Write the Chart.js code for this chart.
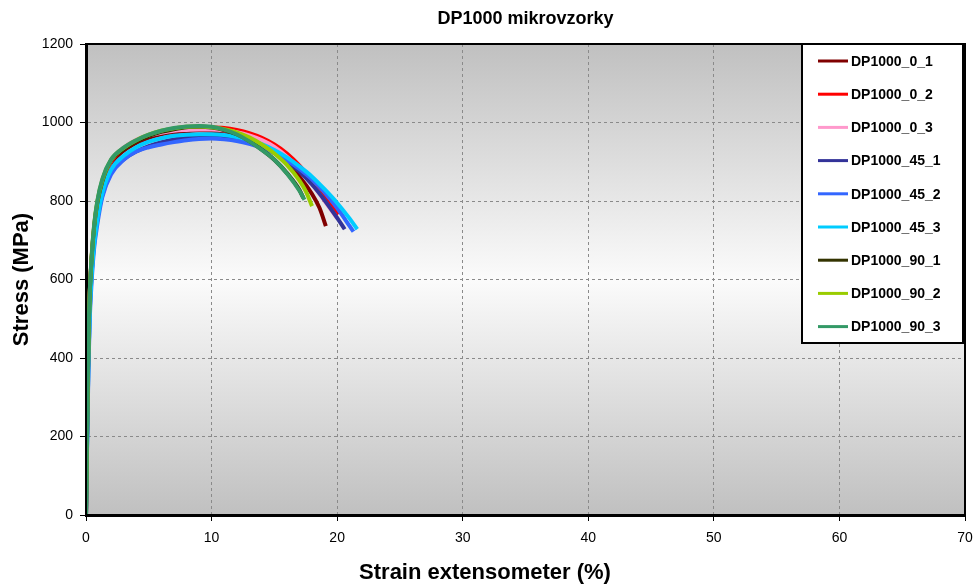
<!DOCTYPE html>
<html lang="en">
<head>
  <meta charset="UTF-8" />
  <title>DP1000 mikrovzorky</title>
  <style>
    body {
      margin: 0;
      background-color: #ffffff;
    }

    .wrap {
      width: 976px;
      height: 584px;
      position: relative;
    }
  </style>
</head>
<body>
  <div class="wrap">
    <canvas id="tensileChart"></canvas>
  </div>

  <script src="https://cdn.jsdelivr.net/npm/chart.js"></script>

  <script>
    const chartTitle = "DP1000 mikrovzorky";
    const xTitle = "Strain extensometer (%)";
    const yTitle = "Stress (MPa)";

    const xTicks = [0, 10, 20, 30, 40, 50, 60, 70];
    const yTicks = [0, 200, 400, 600, 800, 1000, 1200];

    const seriesNames = [
      "DP1000_0_1", "DP1000_0_2", "DP1000_0_3",
      "DP1000_45_1", "DP1000_45_2", "DP1000_45_3",
      "DP1000_90_1", "DP1000_90_2", "DP1000_90_3"
    ];
    const seriesColors = [
      "#800000", "#ff0000", "#ff99cc",
      "#333399", "#3366ff", "#00ccff",
      "#333300", "#99cc00", "#339966"
    ];

    // strain (%) / stress (MPa)
    const strain_0_1 = [0, 0.1, 0.2, 0.3, 0.45, 0.65, 0.9, 1.3, 2, 3, 4, 5, 6, 7, 8, 9, 10, 11, 12, 13, 14, 15, 16, 17, 18, 18.6, 19.1];
    const stress_0_1 = [0, 240, 440, 560, 650, 725, 785, 840, 895, 928, 948, 961, 970, 975, 978, 980, 979, 976, 969, 958, 943, 923, 896, 862, 818, 782, 736];

    const strain_0_2 = [0, 0.1, 0.2, 0.3, 0.45, 0.65, 0.9, 1.3, 2, 3, 4, 5, 6, 7, 8, 9, 10, 11, 12, 13, 14, 15, 16, 17, 18, 19, 20.1];
    const stress_0_2 = [0, 245, 445, 565, 655, 730, 790, 845, 900, 934, 954, 967, 976, 981, 985, 987, 987, 986, 981, 973, 961, 944, 921, 890, 850, 808, 766];

    const strain_0_3 = [0, 0.1, 0.2, 0.3, 0.45, 0.65, 0.9, 1.3, 2, 3, 4, 5, 6, 7, 8, 9, 10, 11, 12, 13, 14, 15, 16, 17, 18, 19, 20];
    const stress_0_3 = [0, 245, 445, 565, 655, 730, 792, 848, 903, 936, 956, 967, 974, 979, 981, 982, 982, 980, 975, 967, 955, 938, 913, 882, 843, 800, 756];

    const strain_45_1 = [0, 0.1, 0.2, 0.3, 0.45, 0.65, 0.9, 1.3, 2, 3, 4, 5, 6, 7, 8, 9, 10, 11, 12, 13, 14, 15, 16, 17, 18, 19, 20, 20.6];
    const stress_45_1 = [0, 215, 400, 520, 615, 695, 755, 815, 872, 906, 926, 940, 950, 957, 961, 964, 964, 962, 957, 949, 938, 922, 901, 875, 842, 802, 757, 728];

    const strain_45_2 = [0, 0.1, 0.2, 0.3, 0.45, 0.65, 0.9, 1.3, 2, 3, 4, 5, 6, 7, 8, 9, 10, 11, 12, 13, 14, 15, 16, 17, 18, 19, 20, 21, 21.3];
    const stress_45_2 = [0, 200, 380, 500, 595, 680, 740, 810, 868, 905, 926, 937, 944, 950, 955, 958, 959, 957, 953, 946, 936, 922, 904, 882, 855, 822, 782, 736, 722];

    const strain_45_3 = [0, 0.1, 0.2, 0.3, 0.45, 0.65, 0.9, 1.3, 2, 3, 4, 5, 6, 7, 8, 9, 10, 11, 12, 13, 14, 15, 16, 17, 18, 19, 20, 21, 21.6];
    const stress_45_3 = [0, 210, 395, 515, 610, 690, 752, 820, 880, 915, 937, 951, 960, 966, 969, 970, 970, 968, 963, 956, 945, 930, 911, 888, 862, 830, 795, 755, 728];

    const strain_90_1 = [0, 0.1, 0.2, 0.3, 0.45, 0.65, 0.9, 1.3, 2, 3, 4, 5, 6, 7, 8, 9, 10, 11, 12, 13, 14, 15, 16, 17, 17.3];
    const stress_90_1 = [0, 250, 450, 565, 655, 735, 795, 850, 903, 932, 952, 966, 976, 983, 988, 989, 987, 981, 970, 953, 931, 905, 871, 828, 808];

    const strain_90_2 = [0, 0.1, 0.2, 0.3, 0.45, 0.65, 0.9, 1.3, 2, 3, 4, 5, 6, 7, 8, 9, 10, 11, 12, 13, 14, 15, 16, 17, 17.5, 18];
    const stress_90_2 = [0, 250, 450, 568, 658, 738, 798, 853, 905, 935, 955, 969, 979, 985, 989, 990, 988, 983, 975, 962, 944, 921, 892, 852, 825, 787];

    const strain_90_3 = [0, 0.1, 0.2, 0.3, 0.45, 0.65, 0.9, 1.3, 2, 3, 4, 5, 6, 7, 8, 9, 10, 11, 12, 13, 14, 15, 16, 17, 17.4];
    const stress_90_3 = [0, 255, 455, 570, 660, 740, 800, 856, 906, 936, 955, 969, 979, 986, 990, 991, 989, 982, 970, 952, 930, 905, 870, 826, 803];

    const strainSets = [strain_0_1, strain_0_2, strain_0_3, strain_45_1, strain_45_2, strain_45_3, strain_90_1, strain_90_2, strain_90_3];
    const stressSets = [stress_0_1, stress_0_2, stress_0_3, stress_45_1, stress_45_2, stress_45_3, stress_90_1, stress_90_2, stress_90_3];

    const FONT = "'Liberation Sans', Arial, sans-serif";

    const datasets = seriesNames.map((name, i) => ({
      label: name,
      data: strainSets[i].map((x, k) => ({ x: x, y: stressSets[i][k] })),
      borderColor: seriesColors[i],
      backgroundColor: seriesColors[i],
      borderWidth: 4,
      pointRadius: 0,
      cubicInterpolationMode: "monotone",
      fill: false,
      order: seriesNames.length - i
    }));

    // grey-white-grey plot background
    const backdrop = {
      id: "backdrop",
      beforeDraw(chart) {
        const { ctx, chartArea: a } = chart;
        ctx.save();
        ctx.fillStyle = "#ffffff";
        ctx.fillRect(0, 0, chart.width, chart.height);
        const g = ctx.createLinearGradient(0, a.top, 0, a.bottom);
        g.addColorStop(0, "#c0c0c0");
        g.addColorStop(0.5, "#fbfbfb");
        g.addColorStop(1, "#c0c0c0");
        ctx.fillStyle = g;
        ctx.fillRect(a.left, a.top, a.right - a.left, a.bottom - a.top);
        ctx.restore();
      }
    };

    // frame, titles and boxed legend
    const decorations = {
      id: "decorations",
      afterDraw(chart) {
        const { ctx, chartArea: a } = chart;
        ctx.save();
        ctx.strokeStyle = "#000";
        ctx.lineWidth = 2;
        ctx.strokeRect(a.left, a.top, a.right - a.left, a.bottom - a.top);

        ctx.fillStyle = "#000";
        ctx.font = "bold 18px " + FONT;
        ctx.textAlign = "center";
        ctx.textBaseline = "middle";
        ctx.fillText(chartTitle, (a.left + a.right) / 2, 19);

        ctx.font = "bold 22px " + FONT;
        ctx.fillText(xTitle, chart.width / 2 - 3, 573);

        const boxR = a.right - 2, boxL = boxR - 161, boxT = a.top, boxH = 299;
        ctx.fillStyle = "#ffffff";
        ctx.fillRect(boxL, boxT, boxR - boxL, boxH);
        ctx.strokeRect(boxL, boxT, boxR - boxL, boxH);

        ctx.font = "bold 14px " + FONT;
        ctx.textAlign = "left";
        chart.data.datasets.forEach((ds, i) => {
          const y = boxT + 17 + i * 33.2;
          ctx.strokeStyle = ds.borderColor;
          ctx.lineWidth = 3;
          ctx.beginPath();
          ctx.moveTo(boxL + 16, y);
          ctx.lineTo(boxL + 46, y);
          ctx.stroke();
          ctx.fillStyle = "#000";
          ctx.fillText(ds.label, boxL + 49, y + 1);
        });
        ctx.restore();
      }
    };

    new Chart(document.getElementById("tensileChart").getContext("2d"), {
      type: "line",
      data: { datasets },
      options: {
        responsive: true,
        maintainAspectRatio: false,
        animation: false,
        layout: { padding: { top: 44, right: 11, left: 0, bottom: 0 } },
        plugins: {
          legend: { display: false },
          title: { display: false },
          tooltip: { enabled: false }
        },
        scales: {
          x: {
            type: "linear",
            min: xTicks[0],
            max: xTicks[xTicks.length - 1],
            afterBuildTicks: s => { s.ticks = xTicks.map(v => ({ value: v })); },
            afterFit: s => { s.height = 69; s.paddingLeft = 0; s.paddingRight = 0; },
            ticks: { color: "#000", font: { family: FONT, size: 14 }, padding: 9, maxRotation: 0, callback: v => String(v) },
            grid: { color: "#8a8a8a", tickColor: "#000", tickLength: 6 },
            border: { color: "#000", width: 3, dash: [3, 3] }
          },
          y: {
            min: yTicks[0],
            max: yTicks[yTicks.length - 1],
            afterBuildTicks: s => { s.ticks = yTicks.map(v => ({ value: v })); },
            afterFit: s => { s.width = 86; s.paddingTop = 0; s.paddingBottom = 0; },
            ticks: { color: "#000", font: { family: FONT, size: 14 }, padding: 7, callback: v => String(v) },
            grid: { color: "#8a8a8a", tickColor: "#000", tickLength: 6 },
            border: { color: "#000", width: 3, dash: [3, 3] },
            title: {
              display: true,
              text: yTitle,
              color: "#000",
              font: { family: FONT, size: 22, weight: "bold" },
              padding: { top: 9, bottom: 0 }
            }
          }
        }
      },
      plugins: [backdrop, decorations]
    });
  </script>
</body>
</html>
